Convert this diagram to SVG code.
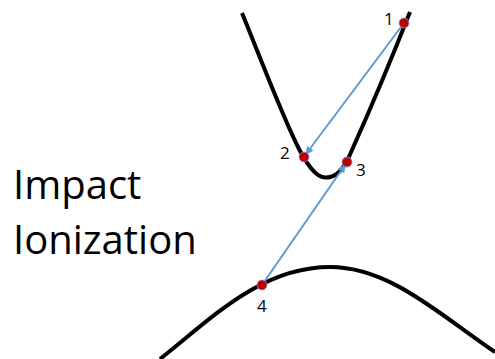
<svg xmlns="http://www.w3.org/2000/svg" width="495" height="359" viewBox="0 0 495 359">
<style>
.band{fill:none;stroke:#000;stroke-width:4;stroke-linecap:butt}
.tr{fill:none;stroke:#5B9BD5;stroke-width:2}
.dot{fill:#C00000;stroke:#7F9FCF;stroke-width:0.8}
.num{font-family:"Open Sans","Noto Sans",sans-serif;font-size:17px;fill:#000}
.big{font-family:"Open Sans","Noto Sans",sans-serif;font-size:40px;fill:#000}
</style>
<defs>
<marker id="ah" viewBox="0 0 10 10" refX="9" refY="5" markerWidth="4" markerHeight="4" orient="auto">
<path d="M0,0 L10,5 L0,10 Z" fill="#5B9BD5"/>
</marker>
</defs>
<rect width="495" height="359" fill="#fff"/>
<g id="conduction-band"><path class="band" d="M242,13 C262,62 283,118 299,149 C311,172 320,180 330,177 C340,175 346,164 352,150 C370,110 395,50 410,12"/></g>
<g id="valence-band"><path class="band" d="M160,359 C210,320 260,267 330,267 C390,267 440,315 495,352"/></g>
<g id="connectors">
<line class="tr" x1="404" y1="23" x2="306" y2="154" marker-end="url(#ah)"/>
<line class="tr" x1="262" y1="285" x2="345" y2="165" marker-end="url(#ah)"/>
</g>
<g id="p1"><circle class="dot" cx="404" cy="23" r="5"/><text class="num" x="384" y="25">1</text></g>
<g id="p2"><circle class="dot" cx="304" cy="157" r="5"/><text class="num" x="280" y="159">2</text></g>
<g id="p3"><circle class="dot" cx="347" cy="162" r="5"/><text class="num" x="356" y="176">3</text></g>
<g id="p4"><circle class="dot" cx="262" cy="285" r="5"/><text class="num" x="257" y="312">4</text></g>
<g id="label"><text class="big" x="13" y="199">Impact</text><text class="big" x="13" y="254">Ionization</text></g>
</svg>
